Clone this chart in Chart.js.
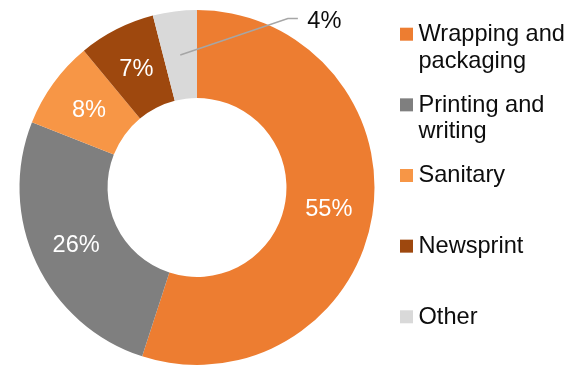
<!DOCTYPE html>
<html>
<head>
<meta charset="utf-8">
<script src="https://cdn.jsdelivr.net/npm/chart.js@4/dist/chart.umd.min.js"></script>
<style>
  html, body { margin: 0; padding: 0; background: #ffffff; }
  #wrap { position: relative; width: 586px; height: 368px; }
</style>
</head>
<body>
<div id="wrap"><canvas id="c" width="586" height="368"></canvas></div>
<script>
// ---- Data ----
const categories = [
  ["Wrapping and", "packaging"],
  ["Printing and", "writing"],
  ["Sanitary"],
  ["Newsprint"],
  ["Other"]
];
const shares = [55, 26, 8, 7, 4];
const valueLabels = ["55%", "26%", "8%", "7%", "4%"];
const sliceColors = ["#ED7D31", "#7F7F7F", "#F79646", "#9E480E", "#D9D9D9"];

const FONT = "23.6px 'Liberation Sans', Arial, sans-serif";

const labelPlugin = {
  id: "sliceLabels",
  afterDatasetsDraw(chart) {
    const ctx = chart.ctx;
    const meta = chart.getDatasetMeta(0);
    ctx.save();
    ctx.font = FONT;
    meta.data.forEach((arc, i) => {
      const p = arc.getProps(["x", "y", "startAngle", "endAngle", "innerRadius", "outerRadius"], true);
      const mid = (p.startAngle + p.endAngle) / 2;
      const r = (p.innerRadius + p.outerRadius) / 2;
      const ax = p.x + Math.cos(mid) * r;
      const ay = p.y + Math.sin(mid) * r;
      if (i === meta.data.length - 1) {
        // leader line to outside label
        const ex = ax + 107.6, ey = ay - 36.6;
        ctx.strokeStyle = "#A6A6A6";
        ctx.lineWidth = 1.5;
        ctx.beginPath();
        ctx.moveTo(ax, ay);
        ctx.lineTo(ex, ey);
        ctx.lineTo(ex + 10, ey);
        ctx.stroke();
        ctx.fillStyle = "#0d0d0d";
        ctx.textAlign = "left";
        ctx.textBaseline = "alphabetic";
        ctx.fillText(valueLabels[i], ex + 19.4, ey + 9.6);
      } else {
        ctx.fillStyle = "#ffffff";
        ctx.textAlign = "center";
        ctx.textBaseline = "middle";
        ctx.fillText(valueLabels[i], ax, ay + 1);
      }
    });
    ctx.restore();
  }
};

const legendPlugin = {
  id: "sideLegend",
  afterDraw(chart) {
    const ctx = chart.ctx;
    const ds = chart.data.datasets[0];
    const left = 400, box = 13, firstTop = 27.7, step = 70.65, lineH = 26.7;
    ctx.save();
    ctx.font = FONT;
    ctx.textAlign = "left";
    ctx.textBaseline = "alphabetic";
    chart.data.labels.forEach((lab, i) => {
      const top = firstTop + step * i;
      ctx.fillStyle = ds.backgroundColor[i];
      ctx.fillRect(left, top, box, box);
      ctx.fillStyle = "#0d0d0d";
      lab.forEach((line, j) => {
        ctx.fillText(line, left + 18.5, top + 13.3 + j * lineH);
      });
    });
    ctx.restore();
  }
};

new Chart(document.getElementById("c"), {
  type: "doughnut",
  data: {
    labels: categories,
    datasets: [{
      data: shares,
      backgroundColor: sliceColors,
      borderWidth: 0
    }]
  },
  options: {
    responsive: false,
    animation: false,
    cutout: "50.4%",
    layout: { padding: { left: 19, right: 211, top: 10, bottom: 3 } },
    plugins: {
      legend: { display: false },
      tooltip: { enabled: false }
    }
  },
  plugins: [labelPlugin, legendPlugin]
});
</script>
</body>
</html>
